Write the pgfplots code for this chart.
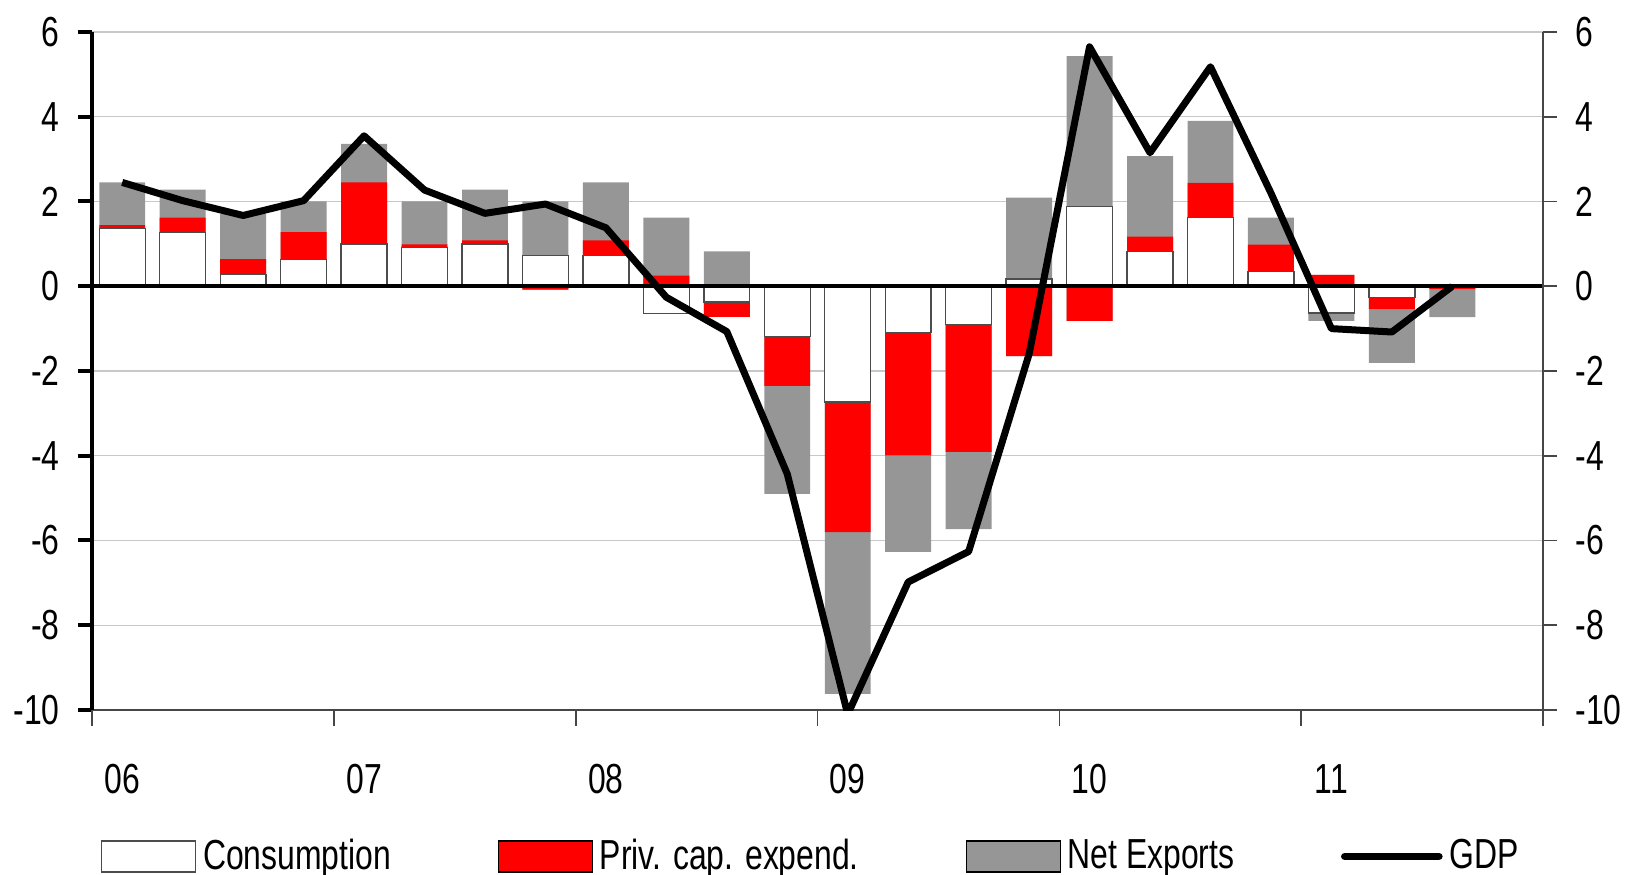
\documentclass[border=0pt]{standalone}
\usepackage{fontspec}
\setmainfont{Liberation Sans}[FakeStretch=0.76]
\usepackage{pgfplots}
\usepackage{pgfplotstable}
\pgfplotsset{compat=1.18}
\definecolor{netgray}{RGB}{150,150,150}
\definecolor{gridgray}{RGB}{200,200,200}
\definecolor{axgray}{RGB}{70,70,70}

% contributions to GDP growth, quarters 06Q1..11Q3
% tops of the stacks: g = all three, r = consumption + capex, c = consumption
% p = positive stack, n = negative stack
\pgfplotstableread{
x  gp    rp    cp    gn     rn     cn     gdp
0  2.45  1.44  1.36  0      0      0      2.45
1  2.28  1.62  1.27  0      0      0      2.02
2  1.70  0.64  0.27  0      0      0      1.67
3  2.00  1.28  0.63  0      0      0      2.02
4  3.36  2.45  1.00  0      0      0      3.55
5  2.00  0.99  0.91  0      0      0      2.27
6  2.28  1.08  1.00  0      0      0      1.72
7  2.00  0.72  0.72  -0.08  -0.08  0      1.94
8  2.45  1.08  0.72  0      0      0      1.38
9  1.62  0.25  0     -0.64  -0.64  -0.64  -0.26
10 0.82  0     0     -0.72  -0.72  -0.37  -1.07
11 0     0     0     -4.90  -2.35  -1.18  -4.43
12 0     0     0     -9.62  -5.80  -2.73  -10.1
13 0     0     0     -6.27  -3.99  -1.09  -6.98
14 0     0     0     -5.73  -3.91  -0.90  -6.26
15 2.09  0.17  0.17  -1.65  -1.65  0      -1.60
16 5.43  1.88  1.88  -0.82  -0.82  0      5.65
17 3.07  1.17  0.82  0      0      0      3.15
18 3.90  2.44  1.62  0      0      0      5.18
19 1.62  0.98  0.35  0      0      0      2.20
20 0.27  0.27  0     -0.82  -0.63  -0.63  -1.00
21 0     0     0     -1.81  -0.54  -0.27  -1.08
22 0     0     0     -0.73  -0.07  0      0.00
}\contrib

\pgfplotsset{
  boxlegend/.style={legend image code/.code={\draw[##1] (0pt,-4.65pt) rectangle (28.2pt,4.65pt);}},
  linelegend/.style={legend image code/.code={\draw[##1] (0pt,0pt) -- (28.2pt,0pt);}},
  bars/.style={ybar, bar width=0.76, bar shift=0pt, forget plot},
}

\begin{document}
\begin{tikzpicture}[font=\fontsize{12.6}{15}\selectfont]
\begin{axis}[
    scale only axis, width=435.3pt, height=203.4pt,
    xmin=-0.5, xmax=23.5, ymin=-10, ymax=6,
    axis x line*=bottom, axis y line*=left,
    x axis line style={-, draw=axgray, line width=0.5pt},
    y axis line style={-, black, line width=1.2pt},
    tick align=outside,
    ytick={-10,-8,...,6}, yticklabels={-10,-8,-6,-4,-2,0,2,4,6},
    ytick style={black, line width=1.2pt},
    major tick length=4.2pt,
    yticklabel style={xshift=-2pt},
    ymajorgrids, major grid style={gridgray, line width=0.4pt},
    xtick={0,4,...,20}, xticklabels={06,07,08,09,10,11},
    xtick style={draw=none},
    xticklabel style={yshift=-8.5pt},
    extra x ticks={-0.5,3.5,...,23.5}, extra x tick labels={},
    extra x tick style={xtick style={draw=axgray, line width=0.5pt}, major tick length=4.7pt},
    legend style={at={(0.497,-0.216)}, anchor=center, draw=none, fill=none,
      legend columns=4, /tikz/every even column/.append style={column sep=30pt}},
  ]
\coordinate (bl) at (rel axis cs:0,0);
\coordinate (tr) at (rel axis cs:1,1);
\addlegendimage{boxlegend, fill=white, draw=black!70, line width=0.4pt}
\addlegendentry{Consumption}
\addlegendimage{boxlegend, fill=red, draw=none}
\addlegendentry{Priv. cap. expend.}
\addlegendimage{boxlegend, fill=netgray, draw=none}
\addlegendentry{Net Exports}
\addlegendimage{linelegend, black, line width=2.3pt, line cap=round}
\addlegendentry{GDP}
\addplot[bars, fill=netgray, draw=none] table[x=x, y=gp] {\contrib};
\addplot[bars, fill=netgray, draw=none] table[x=x, y=gn] {\contrib};
\addplot[bars, fill=red, draw=none] table[x=x, y=rp] {\contrib};
\addplot[bars, fill=red, draw=none] table[x=x, y=rn] {\contrib};
\addplot[bars, fill=white, draw=black!70, line width=0.4pt] table[x=x, y=cp] {\contrib};
\addplot[bars, fill=white, draw=black!70, line width=0.4pt] table[x=x, y=cn] {\contrib};
\draw[black, line width=1.1pt] (axis cs:-0.5,0) -- (axis cs:23.5,0);
\addplot[black, line width=2.1pt, line join=round, mark=none, forget plot] table[x=x, y=gdp] {\contrib};
\end{axis}
\begin{axis}[
    scale only axis, width=435.3pt, height=203.4pt,
    xmin=-0.5, xmax=23.5, ymin=-10, ymax=6,
    axis y line*=right, axis x line=none,
    y axis line style={-, draw=axgray, line width=0.5pt},
    tick align=outside,
    ytick={-10,-8,...,6}, yticklabels={-10,-8,-6,-4,-2,0,2,4,6},
    ytick style={draw=axgray, line width=0.5pt},
    major tick length=4.2pt,
    yticklabel style={xshift=2pt},
  ]
\end{axis}
\pgfresetboundingbox
\path[use as bounding box] ([xshift=-27.6pt,yshift=-49.2pt]bl) rectangle ([xshift=29.1pt,yshift=9.6pt]tr);
\end{tikzpicture}
\end{document}
